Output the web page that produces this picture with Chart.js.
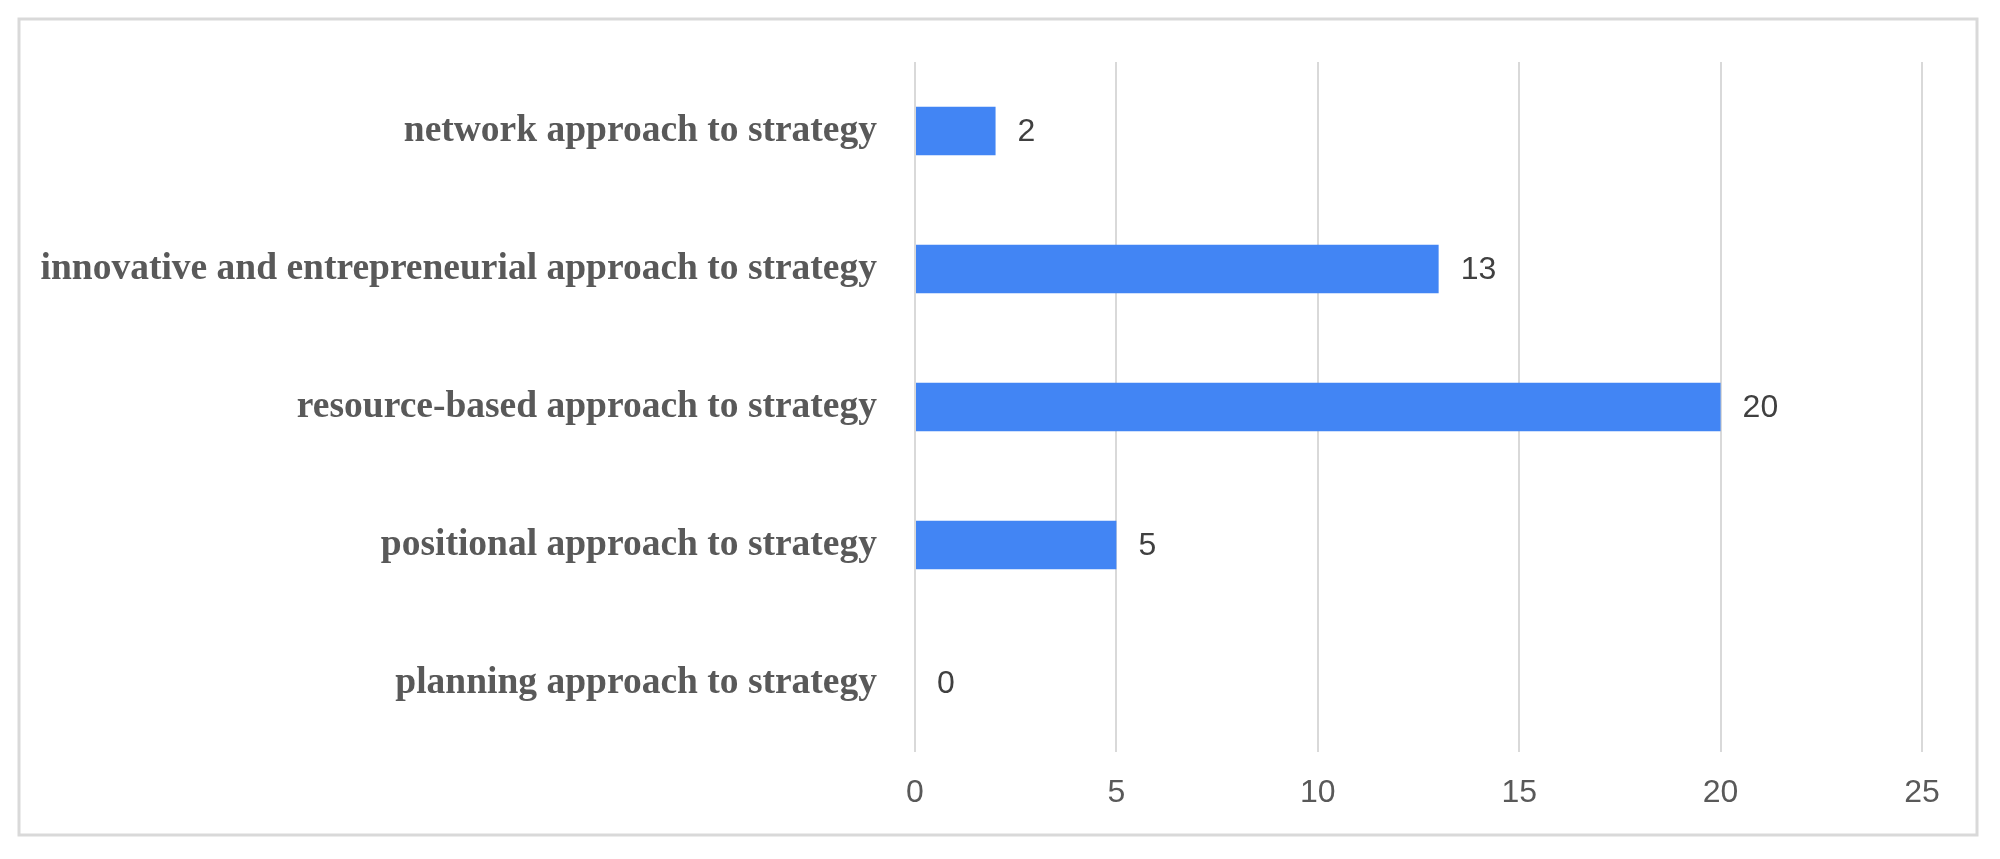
<!DOCTYPE html>
<html>
<head>
<meta charset="utf-8">
<script src="https://cdn.jsdelivr.net/npm/chart.js@4"></script>
<style>
  html, body { margin: 0; padding: 0; background: #fff; }
</style>
</head>
<body>
<canvas id="myChart" width="2000" height="859"></canvas>
<script>
const approaches = [
    "network approach to strategy",
    "innovative and entrepreneurial approach to strategy",
    "resource-based approach to strategy",
    "positional approach to strategy",
    "planning approach to strategy"
];
const counts = [2, 13, 20, 5, 0];
const xTicks = [0, 5, 10, 15, 20, 25];

// light grey frame round the whole chart
const framePlugin = {
    id: "frame",
    beforeDraw(chart) {
        const ctx = chart.ctx;
        ctx.save();
        ctx.fillStyle = "#fff";
        ctx.fillRect(0, 0, chart.width, chart.height);
        ctx.strokeStyle = "#d9d9d9";
        ctx.lineWidth = 3;
        ctx.strokeRect(19, 19, 1958, 816);
        ctx.restore();
    }
};

// value next to the end of each bar
const valueLabels = {
    id: "valueLabels",
    afterDatasetsDraw(chart) {
        const ctx = chart.ctx;
        const meta = chart.getDatasetMeta(0);
        ctx.save();
        ctx.font = "32px 'Liberation Sans', Arial, sans-serif";
        ctx.fillStyle = "#404040";
        ctx.textAlign = "left";
        ctx.textBaseline = "middle";
        meta.data.forEach((bar, i) => {
            ctx.fillText(String(counts[i]), bar.x + 22, bar.y + 1);
        });
        ctx.restore();
    }
};

const myChart = document.getElementById("myChart").getContext("2d");

new Chart(myChart, {
    type: "bar",
    data: {
        labels: approaches,
        datasets: [{
            data: counts,
            backgroundColor: "#4285f4",
            borderWidth: 0,
            barPercentage: 0.35,
            categoryPercentage: 1
        }]
    },
    options: {
        indexAxis: "y",
        responsive: false,
        animation: false,
        layout: {
            padding: {top: 62, right: 78, left: 0, bottom: 0}
        },
        scales: {
            x: {
                min: xTicks[0],
                max: xTicks[xTicks.length - 1],
                ticks: {
                    stepSize: xTicks[1] - xTicks[0],
                    padding: 22,
                    color: "#595959",
                    font: {family: "'Liberation Sans', Arial, sans-serif", size: 32}
                },
                grid: {color: "#d9d9d9", lineWidth: 2, drawTicks: false},
                border: {display: false},
                afterFit(scale) { scale.height = 107; }
            },
            y: {
                ticks: {
                    padding: 38,
                    color: "#595959",
                    font: {family: "'Liberation Serif', 'Times New Roman', serif", size: 37.5, weight: "bold"}
                },
                grid: {display: false, drawTicks: false},
                border: {display: false},
                afterFit(scale) { scale.width = 915; }
            }
        },
        plugins: {
            legend: {display: false},
            tooltip: {enabled: false}
        }
    },
    plugins: [framePlugin, valueLabels]
});
</script>
</body>
</html>
